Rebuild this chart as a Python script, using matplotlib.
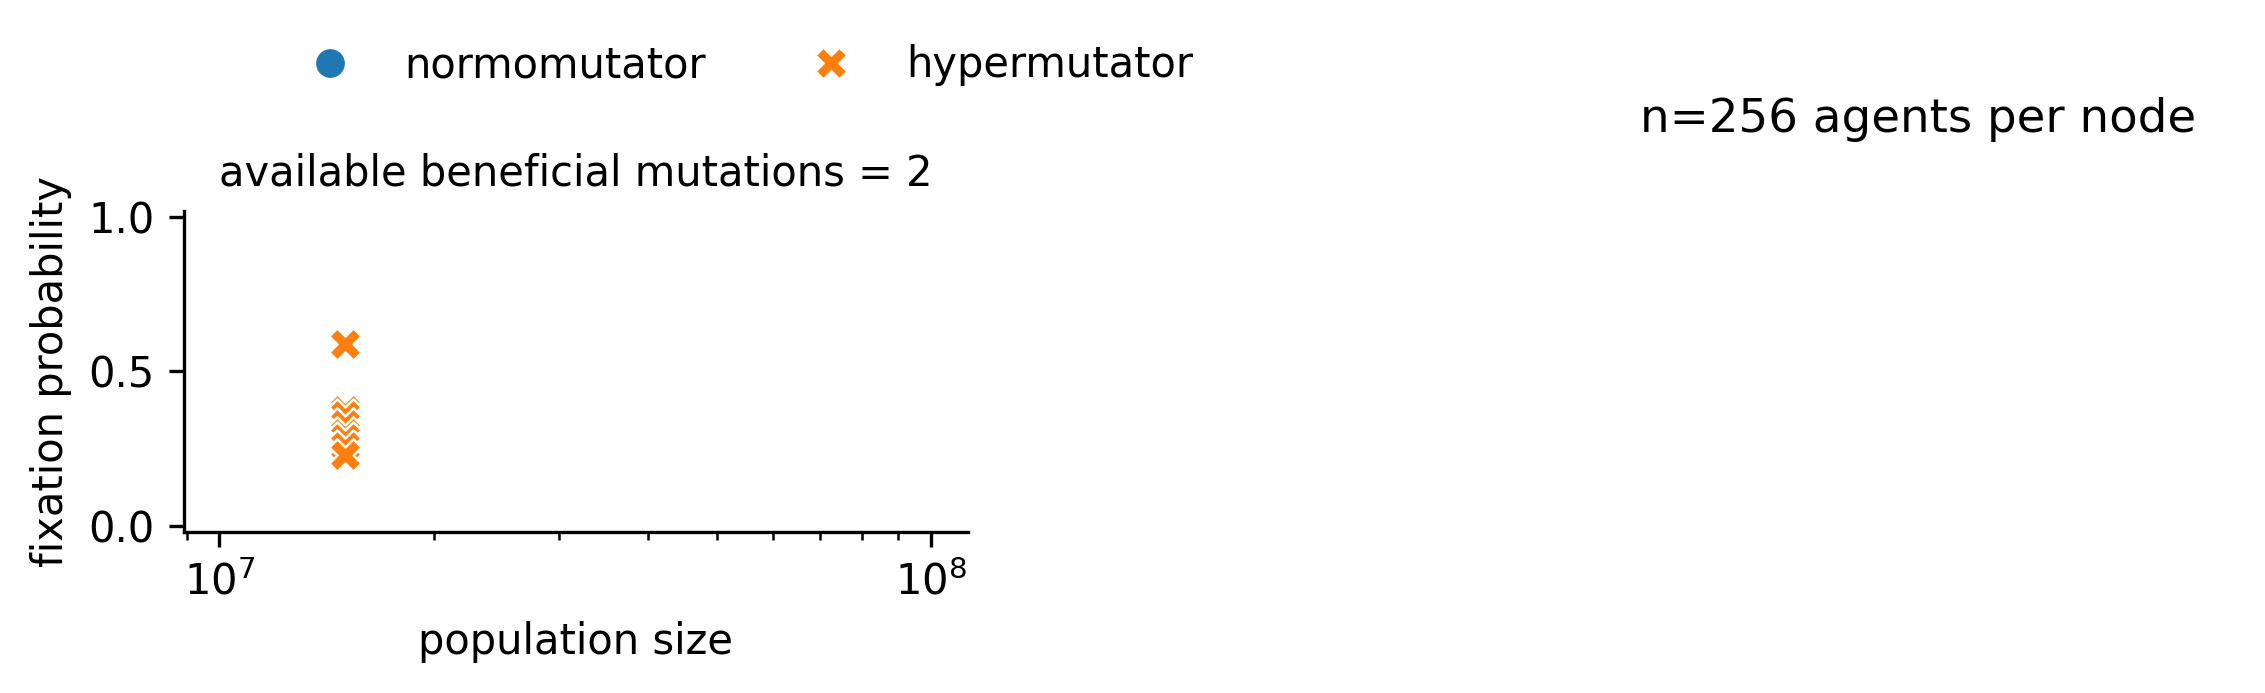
import matplotlib
matplotlib.use("Agg")
import matplotlib.pyplot as plt
from matplotlib.lines import Line2D
import numpy as np

# data (only the hypermutator runs have points)
population_size = [1.5e7, 1.5e7, 1.5e7, 1.5e7, 1.5e7, 1.5e7, 1.5e7, 1.5e7]
fixation_prob = [0.59, 0.375, 0.36, 0.33, 0.30, 0.285, 0.26, 0.23]
series_labels = ["normomutator", "hypermutator"]
series_colors = ["#1f77b4", "#ff7f0e"]
series_markers = ["o", "X"]

fig = plt.figure(figsize=(7.55, 2.31), dpi=300)
ax = fig.add_axes([0.0812, 0.232, 0.346, 0.464])

ax.scatter(population_size, fixation_prob, marker=series_markers[1],
           color=series_colors[1], s=60, edgecolors="white", linewidths=0.6,
           zorder=3)

ax.set_xscale("log")
ax.set_xlim(10 ** 6.95, 10 ** 8.052)
ax.set_ylim(-0.02, 1.02)
ax.set_yticks([0.0, 0.5, 1.0])
ax.set_xlabel("population size")
ax.set_ylabel("fixation probability")
ax.set_title("available beneficial mutations = 2", fontsize=10)
ax.spines["top"].set_visible(False)
ax.spines["right"].set_visible(False)

handles = [Line2D([], [], linestyle="none", marker=m, color=c,
                  markeredgecolor="white", markeredgewidth=0.6, markersize=7.5)
           for m, c in zip(series_markers, series_colors)]
fig.legend(handles, series_labels, loc="center", ncol=2, frameon=False,
           bbox_to_anchor=(0.327, 0.906))

fig.text(0.847, 0.827, "n=256 agents per node", fontsize=11.2,
         ha="center", va="center")

fig.savefig("out.png", dpi=300)
